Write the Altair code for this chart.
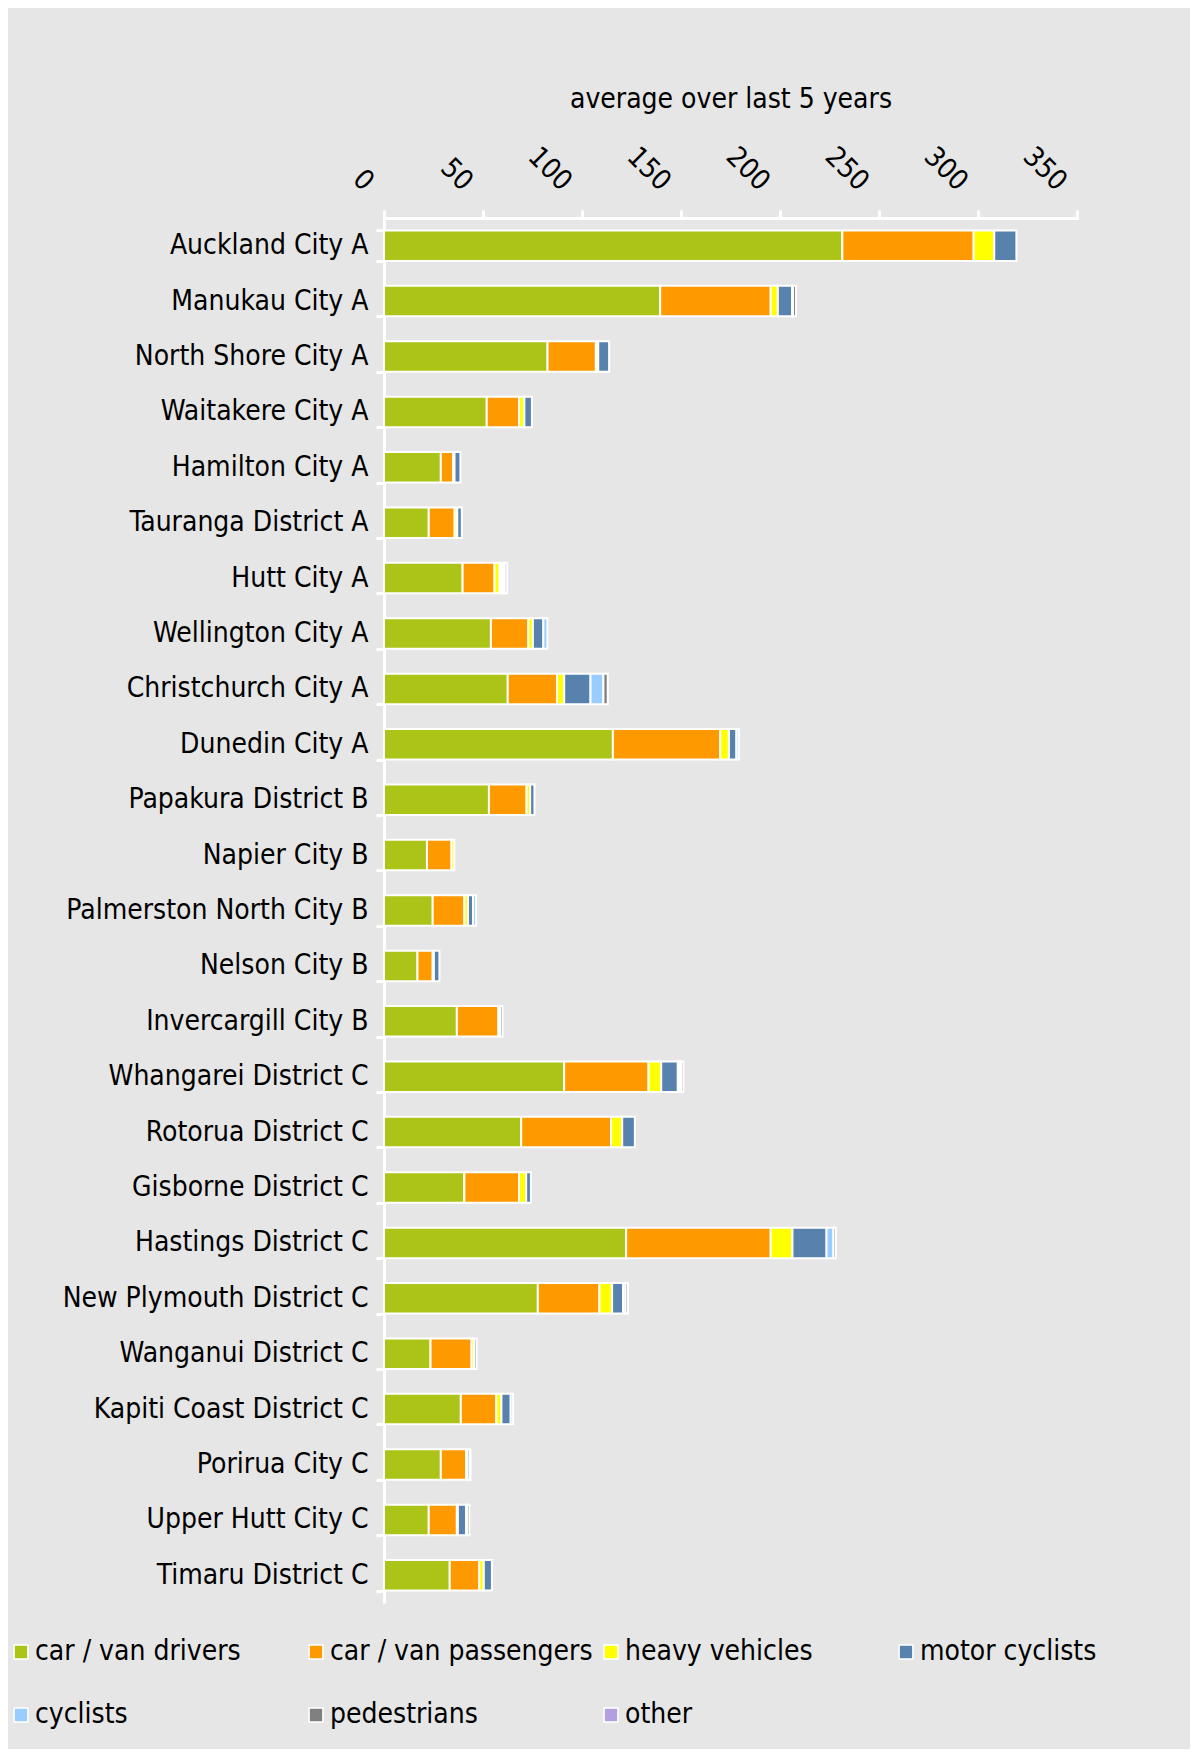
import altair as alt
import pandas as pd

categories = [
    "Auckland City A", "Manukau City A", "North Shore City A", "Waitakere City A",
    "Hamilton City A", "Tauranga District A", "Hutt City A", "Wellington City A",
    "Christchurch City A", "Dunedin City A", "Papakura District B", "Napier City B",
    "Palmerston North City B", "Nelson City B", "Invercargill City B",
    "Whangarei District C", "Rotorua District C", "Gisborne District C",
    "Hastings District C", "New Plymouth District C", "Wanganui District C",
    "Kapiti Coast District C", "Porirua City C", "Upper Hutt City C", "Timaru District C",
]

series = ["car / van drivers", "car / van passengers", "heavy vehicles",
          "motor cyclists", "cyclists", "pedestrians", "other"]
colors = ["#acc318", "#ff9900", "#ffff00", "#5882ae", "#99ccff", "#808080", "#b19fe2"]

drivers = [231.5, 139.5, 82.6, 51.9, 28.7, 22.6, 39.7, 54.0, 62.5, 115.6, 53.0, 21.7,
           24.6, 16.9, 36.8, 91.0, 69.3, 40.6, 122.3, 77.7, 23.5, 38.8, 28.7, 22.6, 33.2]
passengers = [66.3, 55.8, 24.4, 16.3, 6.3, 13.1, 16.1, 18.9, 24.9, 54.2, 19.0, 12.4,
              16.0, 7.7, 21.0, 42.6, 45.4, 27.6, 73.0, 31.1, 20.7, 17.9, 12.8, 14.2, 14.9]
heavy = [10.4, 3.6, 1.2, 2.7, 0.6, 1.3, 2.6, 2.3, 3.6, 4.4, 1.8, 1.4,
         1.8, 0.6, 0.9, 6.4, 5.6, 3.6, 11.0, 6.4, 1.4, 2.6, 0.6, 0.5, 2.3]
motor = [11.2, 7.2, 5.5, 3.8, 3.0, 2.3, 1.0, 5.3, 13.3, 3.8, 2.2, 0.0,
         2.6, 2.8, 1.2, 8.4, 6.4, 2.4, 17.2, 5.6, 1.2, 4.7, 1.2, 4.2, 4.1]
cyclists = [0.0, 0.5, 0.0, 0.0, 0.0, 0.0, 1.0, 2.0, 6.5, 1.2, 0.0, 0.0,
            1.5, 0.0, 0.0, 0.8, 0.0, 0.0, 3.5, 1.2, 0.0, 1.2, 0.4, 0.4, 0.0]
pedestrians = [0.0, 1.5, 0.0, 0.0, 0.0, 0.0, 0.6, 0.0, 2.2, 0.0, 0.0, 0.0,
               0.0, 0.0, 0.0, 0.8, 0.0, 0.0, 1.2, 1.2, 0.0, 0.0, 0.0, 1.2, 0.0]
other = [0.0, 0.0, 0.0, 0.0, 0.0, 0.0, 1.2, 0.0, 0.0, 0.0, 0.0, 0.0,
         0.0, 0.0, 0.0, 1.2, 0.0, 0.0, 0.0, 0.0, 0.0, 0.0, 0.0, 0.0, 0.0]

x_ticks = [0, 50, 100, 150, 200, 250, 300, 350]
x_title = "average over last 5 years"

all_values = [drivers, passengers, heavy, motor, cyclists, pedestrians, other]
rows = []
for i, c in enumerate(categories):
    for j, s in enumerate(series):
        rows.append({"region": c, "type": s, "order": j, "value": all_values[j][i]})
df = pd.DataFrame(rows)

FONT = "DejaVu Sans Condensed"
FS = 28

chart = (
    alt.Chart(df)
    .transform_filter("datum.value > 0")
    .mark_bar(stroke="white", strokeWidth=2)
    .encode(
        y=alt.Y(
            "region:N",
            sort=categories,
            scale=alt.Scale(paddingInner=0.45, paddingOuter=0.225),
            axis=alt.Axis(
                title=None,
                domainColor="white", domainWidth=3,
                tickColor="white", tickWidth=3, tickSize=7, tickBand="extent",
                tickCap="round",
                labelFont=FONT, labelFontSize=FS, labelColor="black",
                labelPadding=9, labelLimit=400,
            ),
        ),
        x=alt.X(
            "value:Q",
            stack="zero",
            scale=alt.Scale(domain=[0, 350], nice=False),
            axis=alt.Axis(
                orient="top", values=x_ticks, title=x_title, grid=False,
                domainColor="white", domainWidth=3, domainCap="round",
                tickColor="white", tickWidth=3, tickSize=7, tickCap="round",
                labelFont=FONT, labelFontSize=FS, labelColor="black",
                labelAngle=45, labelAlign="right", labelBaseline="middle",
                labelPadding=25, labelOffset=-16,
                titleFont=FONT, titleFontSize=FS, titleFontWeight="normal",
                titleColor="black", titleY=-119, titleBaseline="middle",
            ),
        ),
        color=alt.Color(
            "type:N",
            sort=series,
            scale=alt.Scale(domain=series, range=colors),
            legend=alt.Legend(
                title=None, orient="none", legendX=-377, legendY=1420,
                direction="horizontal",
                columns=4, gridAlign="all", columnPadding=4, rowPadding=35,
                symbolType="square", symbolSize=190, symbolStrokeColor="white",
                symbolStrokeWidth=1.5, symbolOpacity=1,
                labelFont=FONT, labelFontSize=FS, labelColor="black",
                labelOffset=0, labelLimit=400, padding=0,
            ),
        ),
        order=alt.Order("order:Q", sort="ascending"),
    )
    .properties(
        width=693,
        height=1385,
        autosize=alt.AutoSizeParams(type="none"),
        padding={"left": 376, "top": 210, "right": 113, "bottom": 146},
        background="#e6e6e6",
    )
    .configure_view(strokeWidth=0)
)

chart.save("out.html", embed_options={"renderer": "svg", "actions": False})
